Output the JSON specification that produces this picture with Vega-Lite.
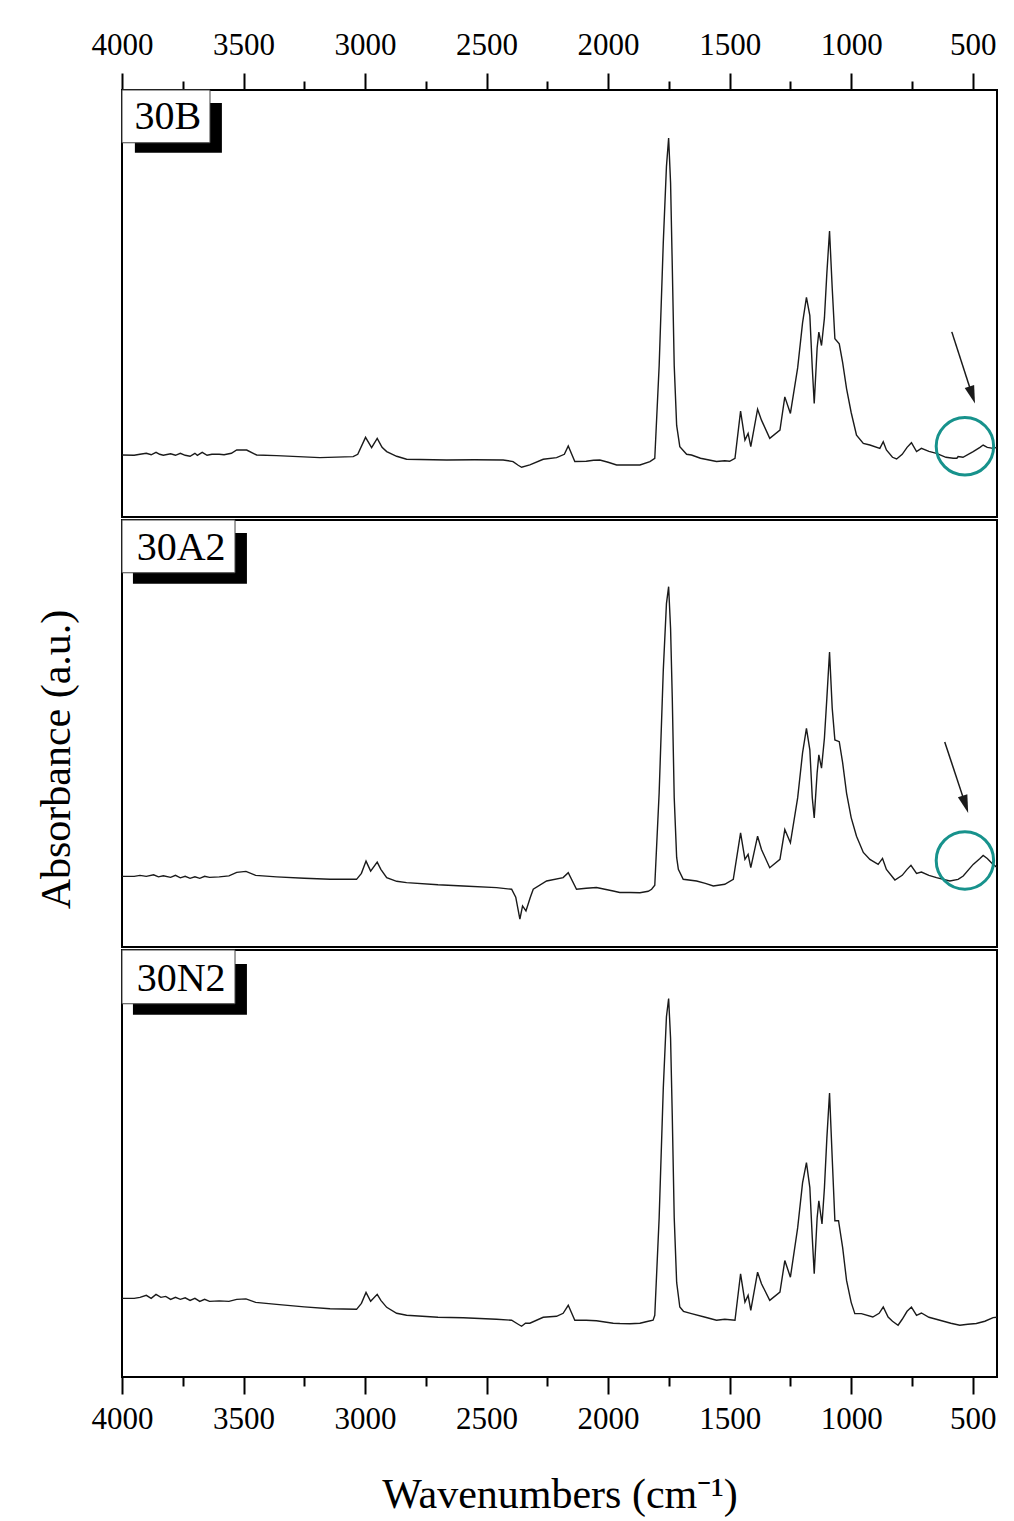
{
  "$schema": "https://vega.github.io/schema/vega-lite/v6.json",
  "autosize": {"type": "pad"},
  "padding": {"top": 28, "left": 34, "right": 16, "bottom": 5},
  "background": "white",
  "spacing": 0,
  "config": {
    "view": {"stroke": "black", "strokeWidth": 2},
    "font": "Liberation Serif",
    "axis": {"grid": false}
  },
  "datasets": {
    "spectra": [
      {"sample":"30B","wn":4000,"a":62.3},{"sample":"30B","wn":3950,"a":62},{"sample":"30B","wn":3926,"a":63},{"sample":"30B","wn":3900,"a":64},{"sample":"30B","wn":3880,"a":62.5},{"sample":"30B","wn":3860,"a":65},{"sample":"30B","wn":3845,"a":63},{"sample":"30B","wn":3830,"a":62},{"sample":"30B","wn":3800,"a":63.5},{"sample":"30B","wn":3780,"a":62},{"sample":"30B","wn":3760,"a":64},{"sample":"30B","wn":3740,"a":62},{"sample":"30B","wn":3720,"a":61},{"sample":"30B","wn":3700,"a":64},{"sample":"30B","wn":3690,"a":62},{"sample":"30B","wn":3670,"a":65},{"sample":"30B","wn":3650,"a":62},{"sample":"30B","wn":3630,"a":63},{"sample":"30B","wn":3600,"a":63},{"sample":"30B","wn":3580,"a":62.5},{"sample":"30B","wn":3550,"a":64},{"sample":"30B","wn":3528,"a":67.3},{"sample":"30B","wn":3487,"a":67.3},{"sample":"30B","wn":3446,"a":62.3},{"sample":"30B","wn":3364,"a":61.7},{"sample":"30B","wn":3186,"a":59.7},{"sample":"30B","wn":3049,"a":60.7},{"sample":"30B","wn":3030,"a":63},{"sample":"30B","wn":2998,"a":80},{"sample":"30B","wn":2973,"a":69.7},{"sample":"30B","wn":2950,"a":79},{"sample":"30B","wn":2930,"a":70},{"sample":"30B","wn":2911,"a":65.7},{"sample":"30B","wn":2870,"a":61},{"sample":"30B","wn":2829,"a":58},{"sample":"30B","wn":2664,"a":57.3},{"sample":"30B","wn":2550,"a":57.5},{"sample":"30B","wn":2432,"a":57.3},{"sample":"30B","wn":2391,"a":55.7},{"sample":"30B","wn":2370,"a":52},{"sample":"30B","wn":2356,"a":50},{"sample":"30B","wn":2322,"a":52.3},{"sample":"30B","wn":2267,"a":58},{"sample":"30B","wn":2212,"a":59.7},{"sample":"30B","wn":2180,"a":63},{"sample":"30B","wn":2164,"a":71.3},{"sample":"30B","wn":2137,"a":55.7},{"sample":"30B","wn":2090,"a":56},{"sample":"30B","wn":2060,"a":57},{"sample":"30B","wn":2034,"a":57.3},{"sample":"30B","wn":2000,"a":55},{"sample":"30B","wn":1965,"a":52.3},{"sample":"30B","wn":1900,"a":52.3},{"sample":"30B","wn":1869,"a":52.3},{"sample":"30B","wn":1828,"a":55.7},{"sample":"30B","wn":1808,"a":59},{"sample":"30B","wn":1790,"a":152},{"sample":"30B","wn":1773,"a":275.7},{"sample":"30B","wn":1760,"a":352},{"sample":"30B","wn":1751,"a":380.7},{"sample":"30B","wn":1743,"a":335.7},{"sample":"30B","wn":1736,"a":252},{"sample":"30B","wn":1728,"a":152},{"sample":"30B","wn":1718,"a":92},{"sample":"30B","wn":1705,"a":70.7},{"sample":"30B","wn":1677,"a":63},{"sample":"30B","wn":1657,"a":62.3},{"sample":"30B","wn":1620,"a":59},{"sample":"30B","wn":1554,"a":55.7},{"sample":"30B","wn":1520,"a":56.5},{"sample":"30B","wn":1500,"a":56},{"sample":"30B","wn":1478,"a":59},{"sample":"30B","wn":1455,"a":106.3},{"sample":"30B","wn":1437,"a":77.3},{"sample":"30B","wn":1424,"a":84},{"sample":"30B","wn":1413,"a":70.7},{"sample":"30B","wn":1385,"a":108.3},{"sample":"30B","wn":1369,"a":97.3},{"sample":"30B","wn":1335,"a":79},{"sample":"30B","wn":1293,"a":87.3},{"sample":"30B","wn":1273,"a":120.7},{"sample":"30B","wn":1250,"a":104},{"sample":"30B","wn":1220,"a":150},{"sample":"30B","wn":1200,"a":195},{"sample":"30B","wn":1184,"a":220.7},{"sample":"30B","wn":1170,"a":202.3},{"sample":"30B","wn":1160,"a":150},{"sample":"30B","wn":1152,"a":114},{"sample":"30B","wn":1140,"a":170},{"sample":"30B","wn":1133,"a":185.7},{"sample":"30B","wn":1122,"a":172.3},{"sample":"30B","wn":1110,"a":200},{"sample":"30B","wn":1100,"a":245},{"sample":"30B","wn":1089,"a":287.3},{"sample":"30B","wn":1078,"a":230},{"sample":"30B","wn":1067,"a":179},{"sample":"30B","wn":1049,"a":174},{"sample":"30B","wn":1035,"a":155},{"sample":"30B","wn":1019,"a":129},{"sample":"30B","wn":1000,"a":105},{"sample":"30B","wn":978,"a":82.3},{"sample":"30B","wn":950,"a":74},{"sample":"30B","wn":923,"a":72.3},{"sample":"30B","wn":882,"a":69},{"sample":"30B","wn":868,"a":75.7},{"sample":"30B","wn":855,"a":67.3},{"sample":"30B","wn":830,"a":60},{"sample":"30B","wn":813,"a":58.3},{"sample":"30B","wn":790,"a":63},{"sample":"30B","wn":770,"a":70},{"sample":"30B","wn":752,"a":74.7},{"sample":"30B","wn":731,"a":65.7},{"sample":"30B","wn":711,"a":69},{"sample":"30B","wn":680,"a":66},{"sample":"30B","wn":649,"a":64},{"sample":"30B","wn":610,"a":60},{"sample":"30B","wn":580,"a":59},{"sample":"30B","wn":565,"a":59},{"sample":"30B","wn":560,"a":60.7},{"sample":"30B","wn":540,"a":60},{"sample":"30B","wn":498,"a":65.7},{"sample":"30B","wn":470,"a":70},{"sample":"30B","wn":457,"a":72.3},{"sample":"30B","wn":440,"a":70},{"sample":"30B","wn":416,"a":69},{"sample":"30B","wn":400,"a":70},

      {"sample":"30A2","wn":4000,"a":71},{"sample":"30A2","wn":3950,"a":71},{"sample":"30A2","wn":3926,"a":72},{"sample":"30A2","wn":3900,"a":71},{"sample":"30A2","wn":3870,"a":72.5},{"sample":"30A2","wn":3850,"a":70.5},{"sample":"30A2","wn":3830,"a":71.5},{"sample":"30A2","wn":3800,"a":70},{"sample":"30A2","wn":3780,"a":72},{"sample":"30A2","wn":3760,"a":69.5},{"sample":"30A2","wn":3740,"a":71},{"sample":"30A2","wn":3720,"a":69},{"sample":"30A2","wn":3700,"a":70.5},{"sample":"30A2","wn":3680,"a":69},{"sample":"30A2","wn":3660,"a":71},{"sample":"30A2","wn":3640,"a":70},{"sample":"30A2","wn":3600,"a":70.5},{"sample":"30A2","wn":3560,"a":71.5},{"sample":"30A2","wn":3528,"a":75},{"sample":"30A2","wn":3490,"a":76},{"sample":"30A2","wn":3450,"a":72},{"sample":"30A2","wn":3364,"a":70.5},{"sample":"30A2","wn":3250,"a":69},{"sample":"30A2","wn":3144,"a":68},{"sample":"30A2","wn":3035,"a":68},{"sample":"30A2","wn":3015,"a":74},{"sample":"30A2","wn":2996,"a":86.3},{"sample":"30A2","wn":2977,"a":76.3},{"sample":"30A2","wn":2950,"a":85.3},{"sample":"30A2","wn":2935,"a":78},{"sample":"30A2","wn":2911,"a":69.7},{"sample":"30A2","wn":2870,"a":66},{"sample":"30A2","wn":2829,"a":64.7},{"sample":"30A2","wn":2700,"a":62.5},{"sample":"30A2","wn":2596,"a":61.3},{"sample":"30A2","wn":2459,"a":59.7},{"sample":"30A2","wn":2397,"a":58},{"sample":"30A2","wn":2380,"a":50},{"sample":"30A2","wn":2363,"a":28},{"sample":"30A2","wn":2352,"a":41.3},{"sample":"30A2","wn":2338,"a":36.3},{"sample":"30A2","wn":2320,"a":50},{"sample":"30A2","wn":2308,"a":58},{"sample":"30A2","wn":2253,"a":66.3},{"sample":"30A2","wn":2185,"a":69.7},{"sample":"30A2","wn":2164,"a":74.7},{"sample":"30A2","wn":2130,"a":58},{"sample":"30A2","wn":2090,"a":59},{"sample":"30A2","wn":2048,"a":59.7},{"sample":"30A2","wn":1979,"a":56.3},{"sample":"30A2","wn":1952,"a":54.7},{"sample":"30A2","wn":1910,"a":54.7},{"sample":"30A2","wn":1869,"a":54.5},{"sample":"30A2","wn":1835,"a":56},{"sample":"30A2","wn":1821,"a":58},{"sample":"30A2","wn":1808,"a":62},{"sample":"30A2","wn":1790,"a":155},{"sample":"30A2","wn":1773,"a":278},{"sample":"30A2","wn":1760,"a":345},{"sample":"30A2","wn":1751,"a":362},{"sample":"30A2","wn":1743,"a":320},{"sample":"30A2","wn":1736,"a":250},{"sample":"30A2","wn":1728,"a":150},{"sample":"30A2","wn":1718,"a":90},{"sample":"30A2","wn":1711,"a":78},{"sample":"30A2","wn":1691,"a":68},{"sample":"30A2","wn":1636,"a":66.3},{"sample":"30A2","wn":1600,"a":64},{"sample":"30A2","wn":1567,"a":61.3},{"sample":"30A2","wn":1520,"a":63},{"sample":"30A2","wn":1485,"a":68},{"sample":"30A2","wn":1455,"a":114.7},{"sample":"30A2","wn":1437,"a":88},{"sample":"30A2","wn":1424,"a":93},{"sample":"30A2","wn":1413,"a":79.7},{"sample":"30A2","wn":1385,"a":111.3},{"sample":"30A2","wn":1369,"a":98},{"sample":"30A2","wn":1335,"a":79.7},{"sample":"30A2","wn":1293,"a":88},{"sample":"30A2","wn":1273,"a":118},{"sample":"30A2","wn":1250,"a":104.7},{"sample":"30A2","wn":1220,"a":150},{"sample":"30A2","wn":1200,"a":195},{"sample":"30A2","wn":1184,"a":219.7},{"sample":"30A2","wn":1170,"a":198},{"sample":"30A2","wn":1160,"a":150},{"sample":"30A2","wn":1152,"a":129.7},{"sample":"30A2","wn":1140,"a":175},{"sample":"30A2","wn":1133,"a":193},{"sample":"30A2","wn":1122,"a":179.7},{"sample":"30A2","wn":1110,"a":210},{"sample":"30A2","wn":1100,"a":250},{"sample":"30A2","wn":1089,"a":296.3},{"sample":"30A2","wn":1078,"a":240},{"sample":"30A2","wn":1067,"a":208},{"sample":"30A2","wn":1049,"a":206.3},{"sample":"30A2","wn":1035,"a":185},{"sample":"30A2","wn":1019,"a":154.7},{"sample":"30A2","wn":1000,"a":130},{"sample":"30A2","wn":978,"a":111.3},{"sample":"30A2","wn":950,"a":95},{"sample":"30A2","wn":923,"a":88},{"sample":"30A2","wn":889,"a":83},{"sample":"30A2","wn":871,"a":89},{"sample":"30A2","wn":855,"a":78},{"sample":"30A2","wn":820,"a":67.3},{"sample":"30A2","wn":790,"a":72},{"sample":"30A2","wn":770,"a":78},{"sample":"30A2","wn":754,"a":82},{"sample":"30A2","wn":731,"a":74},{"sample":"30A2","wn":711,"a":75.3},{"sample":"30A2","wn":680,"a":72},{"sample":"30A2","wn":649,"a":69.7},{"sample":"30A2","wn":594,"a":66.3},{"sample":"30A2","wn":560,"a":68},{"sample":"30A2","wn":539,"a":71.3},{"sample":"30A2","wn":498,"a":83},{"sample":"30A2","wn":470,"a":89},{"sample":"30A2","wn":457,"a":92},{"sample":"30A2","wn":440,"a":89},{"sample":"30A2","wn":416,"a":83},{"sample":"30A2","wn":400,"a":80},

      {"sample":"30N2","wn":4000,"a":79},{"sample":"30N2","wn":3950,"a":79},{"sample":"30N2","wn":3926,"a":80},{"sample":"30N2","wn":3900,"a":82},{"sample":"30N2","wn":3880,"a":79},{"sample":"30N2","wn":3860,"a":83},{"sample":"30N2","wn":3840,"a":80},{"sample":"30N2","wn":3820,"a":81},{"sample":"30N2","wn":3800,"a":78},{"sample":"30N2","wn":3780,"a":80},{"sample":"30N2","wn":3760,"a":78},{"sample":"30N2","wn":3740,"a":79.5},{"sample":"30N2","wn":3720,"a":77},{"sample":"30N2","wn":3700,"a":79},{"sample":"30N2","wn":3680,"a":76},{"sample":"30N2","wn":3660,"a":78},{"sample":"30N2","wn":3640,"a":76},{"sample":"30N2","wn":3600,"a":76.5},{"sample":"30N2","wn":3560,"a":76},{"sample":"30N2","wn":3528,"a":78},{"sample":"30N2","wn":3490,"a":78.5},{"sample":"30N2","wn":3450,"a":75},{"sample":"30N2","wn":3364,"a":73},{"sample":"30N2","wn":3250,"a":70.5},{"sample":"30N2","wn":3144,"a":68.5},{"sample":"30N2","wn":3035,"a":68},{"sample":"30N2","wn":3015,"a":74},{"sample":"30N2","wn":2996,"a":85},{"sample":"30N2","wn":2977,"a":76},{"sample":"30N2","wn":2950,"a":83},{"sample":"30N2","wn":2935,"a":77},{"sample":"30N2","wn":2911,"a":70},{"sample":"30N2","wn":2870,"a":64},{"sample":"30N2","wn":2829,"a":62},{"sample":"30N2","wn":2700,"a":60},{"sample":"30N2","wn":2596,"a":59.5},{"sample":"30N2","wn":2459,"a":58},{"sample":"30N2","wn":2397,"a":57},{"sample":"30N2","wn":2370,"a":53},{"sample":"30N2","wn":2356,"a":51},{"sample":"30N2","wn":2340,"a":54},{"sample":"30N2","wn":2322,"a":54},{"sample":"30N2","wn":2267,"a":60},{"sample":"30N2","wn":2212,"a":61},{"sample":"30N2","wn":2185,"a":64},{"sample":"30N2","wn":2164,"a":72},{"sample":"30N2","wn":2137,"a":57},{"sample":"30N2","wn":2090,"a":57},{"sample":"30N2","wn":2048,"a":56.5},{"sample":"30N2","wn":1979,"a":54},{"sample":"30N2","wn":1952,"a":53.7},{"sample":"30N2","wn":1910,"a":53.5},{"sample":"30N2","wn":1869,"a":54},{"sample":"30N2","wn":1835,"a":56},{"sample":"30N2","wn":1815,"a":57},{"sample":"30N2","wn":1808,"a":62},{"sample":"30N2","wn":1790,"a":160},{"sample":"30N2","wn":1773,"a":290},{"sample":"30N2","wn":1760,"a":362},{"sample":"30N2","wn":1751,"a":380.3},{"sample":"30N2","wn":1743,"a":340},{"sample":"30N2","wn":1736,"a":262},{"sample":"30N2","wn":1728,"a":160},{"sample":"30N2","wn":1718,"a":95},{"sample":"30N2","wn":1705,"a":70.3},{"sample":"30N2","wn":1690,"a":66},{"sample":"30N2","wn":1657,"a":63.7},{"sample":"30N2","wn":1600,"a":60},{"sample":"30N2","wn":1554,"a":57},{"sample":"30N2","wn":1520,"a":58},{"sample":"30N2","wn":1478,"a":57},{"sample":"30N2","wn":1455,"a":103.7},{"sample":"30N2","wn":1437,"a":75.3},{"sample":"30N2","wn":1424,"a":82},{"sample":"30N2","wn":1413,"a":67},{"sample":"30N2","wn":1385,"a":105.3},{"sample":"30N2","wn":1369,"a":93.7},{"sample":"30N2","wn":1335,"a":77},{"sample":"30N2","wn":1293,"a":85.3},{"sample":"30N2","wn":1273,"a":117},{"sample":"30N2","wn":1250,"a":100.3},{"sample":"30N2","wn":1220,"a":150},{"sample":"30N2","wn":1200,"a":195},{"sample":"30N2","wn":1184,"a":215.3},{"sample":"30N2","wn":1170,"a":190.3},{"sample":"30N2","wn":1160,"a":140},{"sample":"30N2","wn":1152,"a":103.7},{"sample":"30N2","wn":1140,"a":160},{"sample":"30N2","wn":1133,"a":177},{"sample":"30N2","wn":1120,"a":153.7},{"sample":"30N2","wn":1110,"a":190},{"sample":"30N2","wn":1100,"a":240},{"sample":"30N2","wn":1089,"a":285.3},{"sample":"30N2","wn":1078,"a":220},{"sample":"30N2","wn":1067,"a":157},{"sample":"30N2","wn":1052,"a":157},{"sample":"30N2","wn":1035,"a":130},{"sample":"30N2","wn":1019,"a":97},{"sample":"30N2","wn":1000,"a":75},{"sample":"30N2","wn":985,"a":63.7},{"sample":"30N2","wn":958,"a":63.7},{"sample":"30N2","wn":911,"a":60.3},{"sample":"30N2","wn":885,"a":64},{"sample":"30N2","wn":868,"a":70.3},{"sample":"30N2","wn":848,"a":60.3},{"sample":"30N2","wn":830,"a":56},{"sample":"30N2","wn":807,"a":52},{"sample":"30N2","wn":790,"a":58},{"sample":"30N2","wn":770,"a":66},{"sample":"30N2","wn":752,"a":70.3},{"sample":"30N2","wn":731,"a":62},{"sample":"30N2","wn":711,"a":64.3},{"sample":"30N2","wn":680,"a":60},{"sample":"30N2","wn":635,"a":57},{"sample":"30N2","wn":590,"a":54},{"sample":"30N2","wn":553,"a":52},{"sample":"30N2","wn":520,"a":53},{"sample":"30N2","wn":485,"a":53.7},{"sample":"30N2","wn":450,"a":56},{"sample":"30N2","wn":416,"a":59.7},{"sample":"30N2","wn":400,"a":60}
    ]
  },
  "vconcat": [
    {
      "width": 875,
      "height": 427,
      "layer": [
        {
          "data": {"name": "spectra"},
          "transform": [{"filter": "datum.sample === '30B'"}],
          "mark": {"type": "line", "color": "#1a1a1a", "strokeWidth": 1.4},
          "encoding": {
            "x": {"field": "wn", "type": "quantitative",
              "scale": {"domain": [400, 4000], "reverse": true, "nice": false, "zero": false},
              "axis": {"orient": "top", "title": null, "domain": false, "format": "d",
                "values": [4000,3750,3500,3250,3000,2750,2500,2250,2000,1750,1500,1250,1000,750,500],
                "labelExpr": "datum.value % 500 === 0 ? datum.label : ''",
                "tickSize": {"condition": {"test": "datum.value % 500 === 0", "value": 17}, "value": 9},
                "tickWidth": 2, "tickColor": "black", "labelFont": "Liberation Serif", "labelFontSize": 31,
                "labelColor": "black", "labelPadding": 12, "labelFlush": false, "labelOverlap": false}},
            "y": {"field": "a", "type": "quantitative", "scale": {"domain": [0, 429], "nice": false}, "axis": null}
          }
        },
        {
          "data": {"values": [{"t": "30B"}]},
          "mark": {"type": "rect", "color": "black"},
          "encoding": {"x": {"datum": 3947}, "x2": {"datum": 3589}, "y": {"datum": 416}, "y2": {"datum": 366}}
        },
        {
          "data": {"values": [{"t": "30B"}]},
          "mark": {"type": "rect", "fill": "white", "stroke": "#444", "strokeWidth": 1},
          "encoding": {"x": {"datum": 4000}, "x2": {"datum": 3638}, "y": {"datum": 429}, "y2": {"datum": 376}}
        },
        {
          "data": {"values": [{"t": "30B"}]},
          "mark": {"type": "text", "font": "Liberation Serif", "fontSize": 40, "color": "black", "align": "center", "baseline": "middle"},
          "encoding": {"x": {"datum": 3811}, "y": {"datum": 402}, "text": {"field": "t"}}
        },
        {
          "data": {"values": [{"t": "arrow"}]},
          "mark": {"type": "rule", "color": "#1a1a1a", "strokeWidth": 1.5},
          "encoding": {"x": {"datum": 586}, "y": {"datum": 186}, "x2": {"datum": 502}, "y2": {"datum": 122.6}}
        },
        {
          "data": {"values": [{"t": "arrow"}]},
          "mark": {"type": "point", "shape": "M0,1 L-0.55,-1 L0.55,-1 Z", "filled": true, "color": "#1a1a1a", "opacity": 1, "size": 324, "angle": 342},
          "encoding": {"x": {"datum": 502}, "y": {"datum": 122.6}}
        },
        {
          "data": {"values": [{"t": "circle"}]},
          "mark": {"type": "point", "shape": "circle", "filled": false, "stroke": "#17928c", "strokeWidth": 3, "opacity": 1, "size": 3300},
          "encoding": {"x": {"datum": 532}, "y": {"datum": 71}}
        }
      ]
    },
    {
      "width": 875,
      "height": 427,
      "layer": [
        {
          "data": {"name": "spectra"},
          "transform": [{"filter": "datum.sample === '30A2'"}],
          "mark": {"type": "line", "color": "#1a1a1a", "strokeWidth": 1.4},
          "encoding": {
            "x": {"field": "wn", "type": "quantitative",
              "scale": {"domain": [400, 4000], "reverse": true, "nice": false, "zero": false},
              "axis": null},
            "y": {"field": "a", "type": "quantitative", "scale": {"domain": [0, 429], "nice": false},
              "axis": {"title": "Absorbance (a.u.)", "ticks": false, "labels": false, "domain": false,
                "titleFont": "Liberation Serif", "titleFontSize": 42, "titleFontWeight": "normal",
                "titleColor": "black", "titlePadding": 44, "titleY": 239}}
          }
        },
        {
          "data": {"values": [{"t": "30A2"}]},
          "mark": {"type": "rect", "color": "black"},
          "encoding": {"x": {"datum": 3955}, "x2": {"datum": 3486}, "y": {"datum": 416}, "y2": {"datum": 365}}
        },
        {
          "data": {"values": [{"t": "30A2"}]},
          "mark": {"type": "rect", "fill": "white", "stroke": "#444", "strokeWidth": 1},
          "encoding": {"x": {"datum": 4000}, "x2": {"datum": 3535}, "y": {"datum": 429}, "y2": {"datum": 376}}
        },
        {
          "data": {"values": [{"t": "30A2"}]},
          "mark": {"type": "text", "font": "Liberation Serif", "fontSize": 40, "color": "black", "align": "center", "baseline": "middle"},
          "encoding": {"x": {"datum": 3757}, "y": {"datum": 401}, "text": {"field": "t"}}
        },
        {
          "data": {"values": [{"t": "arrow"}]},
          "mark": {"type": "rule", "color": "#1a1a1a", "strokeWidth": 1.5},
          "encoding": {"x": {"datum": 615}, "y": {"datum": 206}, "x2": {"datum": 530}, "y2": {"datum": 143.3}}
        },
        {
          "data": {"values": [{"t": "arrow"}]},
          "mark": {"type": "point", "shape": "M0,1 L-0.55,-1 L0.55,-1 Z", "filled": true, "color": "#1a1a1a", "opacity": 1, "size": 324, "angle": 342},
          "encoding": {"x": {"datum": 530}, "y": {"datum": 143.3}}
        },
        {
          "data": {"values": [{"t": "circle"}]},
          "mark": {"type": "point", "shape": "circle", "filled": false, "stroke": "#17928c", "strokeWidth": 3, "opacity": 1, "size": 3300},
          "encoding": {"x": {"datum": 532}, "y": {"datum": 87}}
        }
      ]
    },
    {
      "width": 875,
      "height": 427,
      "layer": [
        {
          "data": {"name": "spectra"},
          "transform": [{"filter": "datum.sample === '30N2'"}],
          "mark": {"type": "line", "color": "#1a1a1a", "strokeWidth": 1.4},
          "encoding": {
            "x": {"field": "wn", "type": "quantitative",
              "scale": {"domain": [400, 4000], "reverse": true, "nice": false, "zero": false},
              "axis": {"orient": "bottom", "title": "Wavenumbers (cm⁻¹)", "domain": false, "format": "d",
                "values": [4000,3750,3500,3250,3000,2750,2500,2250,2000,1750,1500,1250,1000,750,500],
                "labelExpr": "datum.value % 500 === 0 ? datum.label : ''",
                "tickSize": {"condition": {"test": "datum.value % 500 === 0", "value": 17}, "value": 9},
                "tickWidth": 2, "tickColor": "black", "labelFont": "Liberation Serif", "labelFontSize": 31,
                "labelColor": "black", "labelPadding": 10, "labelFlush": false, "labelOverlap": false,
                "titleFont": "Liberation Serif", "titleFontSize": 42, "titleFontWeight": "normal",
                "titleColor": "black", "titlePadding": 40}},
            "y": {"field": "a", "type": "quantitative", "scale": {"domain": [0, 429], "nice": false}, "axis": null}
          }
        },
        {
          "data": {"values": [{"t": "30N2"}]},
          "mark": {"type": "rect", "color": "black"},
          "encoding": {"x": {"datum": 3955}, "x2": {"datum": 3486}, "y": {"datum": 415}, "y2": {"datum": 364}}
        },
        {
          "data": {"values": [{"t": "30N2"}]},
          "mark": {"type": "rect", "fill": "white", "stroke": "#444", "strokeWidth": 1},
          "encoding": {"x": {"datum": 4000}, "x2": {"datum": 3535}, "y": {"datum": 429}, "y2": {"datum": 375}}
        },
        {
          "data": {"values": [{"t": "30N2"}]},
          "mark": {"type": "text", "font": "Liberation Serif", "fontSize": 40, "color": "black", "align": "center", "baseline": "middle"},
          "encoding": {"x": {"datum": 3757}, "y": {"datum": 400}, "text": {"field": "t"}}
        }
      ]
    }
  ]
}
